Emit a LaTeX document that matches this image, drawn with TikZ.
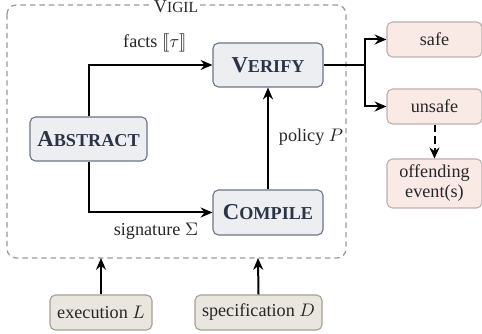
\documentclass[tikz,border=0pt]{standalone}
\usepackage{fontspec}
\setmainfont{Liberation Serif}
\usepackage{stmaryrd}
\usetikzlibrary{arrows.meta}
\definecolor{coreFill}{HTML}{EDEEF1}
\definecolor{coreDraw}{HTML}{6B7585}
\definecolor{coreText}{HTML}{2B3445}
\definecolor{outFill}{HTML}{FAEAE6}
\definecolor{outDraw}{HTML}{BDB0AC}
\definecolor{inFill}{HTML}{E9E6DF}
\definecolor{inDraw}{HTML}{A89F92}
\definecolor{frameDraw}{HTML}{9A9A9A}
\newcommand{\fsc}[2]{#1{\fontsize{8.5}{10}\selectfont #2}}
\newcommand{\bsc}[2]{{\fontsize{12.5}{14}\selectfont\bfseries #1{\fontsize{10}{12}\selectfont #2}}}
\begin{document}
\begin{tikzpicture}[x=0.55pt,y=-0.55pt,
  corebox/.style={draw=coreDraw,fill=coreFill,line width=0.6pt,rounded corners=3pt,text=coreText,inner sep=0pt},
  outbox/.style={draw=outDraw,fill=outFill,line width=0.6pt,rounded corners=3pt,inner sep=0pt,align=center,text=black!85},
  inbox/.style={draw=inDraw,fill=inFill,line width=0.6pt,rounded corners=3pt,inner sep=0pt,text=black!85},
  flow/.style={line width=1.1pt,-{Stealth[length=6.5pt,width=5.5pt]}},
  lbl/.style={font=\fontsize{10}{12}\selectfont,text=black!85}]
\useasboundingbox (0,0) rectangle (482,334);
% frame
\draw[frameDraw,line width=0.7pt,dash pattern=on 3pt off 2.2pt,rounded corners=5pt] (7,5) rectangle (346,258);
\node[fill=white,inner sep=1pt,lbl] (title) at (176,6.5) {\fsc{V}{IGIL}};
\coordinate (frameb1) at (101,258);
\coordinate (frameb2) at (258,258);
% core nodes
\node[corebox,minimum width=110*0.55pt,minimum height=44*0.55pt] (verify) at (268,65) {\bsc{V}{ERIFY}};
\node[corebox,minimum width=117*0.55pt,minimum height=44*0.55pt] (abstract) at (88.5,139) {\bsc{A}{BSTRACT}};
\node[corebox,minimum width=110*0.55pt,minimum height=45*0.55pt] (compile) at (268,212.5) {\bsc{C}{OMPILE}};
% outputs
\node[outbox,minimum width=95*0.55pt,minimum height=35*0.55pt,lbl] (safe) at (434.5,39.5) {safe};
\node[outbox,minimum width=95*0.55pt,minimum height=35*0.55pt,lbl] (unsafe) at (434.5,106.5) {unsafe};
\node[outbox,minimum width=95*0.55pt,minimum height=49*0.55pt,lbl,font=\fontsize{10}{11}\selectfont] (offend) at (434.5,183.5) {offending\\event(s)};
% inputs
\node[inbox,minimum width=102*0.55pt,minimum height=35*0.55pt,lbl] (exec) at (101,312.5) {execution $L$};
\node[inbox,minimum width=127*0.55pt,minimum height=35*0.55pt,lbl] (spec) at (258.5,312.5) {specification $D$};
% connectors
\draw[flow] (abstract.north) |- (verify.west);
\draw[flow] (abstract.south) |- (compile.west);
\draw[flow] (compile.north) -- (verify.south);
\coordinate (split) at (365,65);
\draw[line width=1.1pt] (verify.east) -- (split);
\draw[flow] (split) |- (safe.west);
\draw[flow] (split) |- (unsafe.west);
\draw[line width=1.1pt,dash pattern=on 4pt off 2.5pt,-{Stealth[length=6pt,width=5.5pt]}] (unsafe.south) -- (offend.north);
\draw[flow] (exec.north) -- (frameb1);
\draw[flow] (spec.north) -- (frameb2);
% labels
\node[lbl] (lfacts) at (155,43) {facts $\llbracket\tau\rrbracket$};
\node[lbl] (lsig) at (156,231) {signature $\Sigma$};
\node[lbl] (lpol) at (311,137) {policy $P$};
\end{tikzpicture}
\end{document}
